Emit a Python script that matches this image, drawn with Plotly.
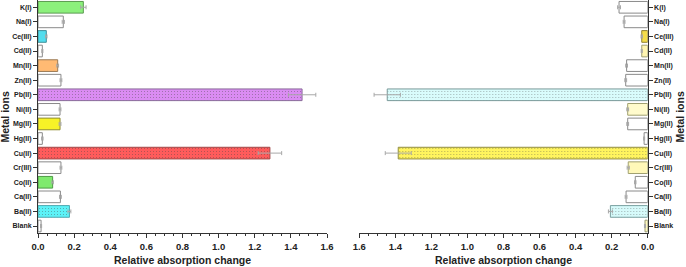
import plotly.graph_objects as go

W, H = 686, 267

# ---- data (bottom to top) ----
ions = ["Blank", "Ba(II)", "Ca(II)", "Co(II)", "Cr(III)", "Cu(II)", "Hg(II)", "Mg(II)",
        "Ni(II)", "Pb(II)", "Zn(II)", "Mn(II)", "Cd(II)", "Ce(III)", "Na(I)", "K(I)"]

left_values = [0.017, 0.174, 0.124, 0.081, 0.127, 1.284, 0.024, 0.122,
               0.122, 1.462, 0.127, 0.109, 0.024, 0.046, 0.140, 0.251]
left_errors = [0.003, 0.008, 0.005, 0.004, 0.005, 0.065, 0.004, 0.005,
               0.005, 0.076, 0.005, 0.005, 0.003, 0.004, 0.006, 0.015]

right_values = [0.015, 0.207, 0.120, 0.069, 0.108, 1.384, 0.020, 0.111,
                0.111, 1.445, 0.122, 0.117, 0.033, 0.033, 0.131, 0.159]
right_errors = [0.003, 0.011, 0.005, 0.004, 0.006, 0.072, 0.003, 0.005,
                0.005, 0.073, 0.005, 0.005, 0.003, 0.004, 0.005, 0.008]

x_ticks = [0.0, 0.2, 0.4, 0.6, 0.8, 1.0, 1.2, 1.4, 1.6]

# ---- styles ----
left_colors = ["#FFFFFF", "#5CF2F7", "#FFFFFF", "#7FEA6E", "#FFFFFF", "#FF5B5B", "#FFFFFF", "#F7F227",
               "#FFFFFF", "#DA8CF2", "#FFFFFF", "#FFBA73", "#FFFFFF", "#52DDEE", "#FFFFFF", "#8CF07C"]
left_edges = ["#8A8A8A", "#4FA8B0", "#8A8A8A", "#4E9A45", "#8A8A8A", "#A04848", "#8A8A8A", "#8F8C30",
              "#8A8A8A", "#8A6A9A", "#8A8A8A", "#9A7A55", "#8A8A8A", "#3F8F9A", "#8A8A8A", "#5A9A50"]
left_pattern = ["", ".", "", "", "", ".", "", "", "", ".", "", "", "", "", "", ""]
left_pfg = ["#FFFFFF", "#48DDE4", "#FFFFFF", "#FFFFFF", "#FFFFFF", "#EE4A4A", "#FFFFFF", "#FFFFFF",
            "#FFFFFF", "#C97AE4", "#FFFFFF", "#FFFFFF", "#FFFFFF", "#FFFFFF", "#FFFFFF", "#FFFFFF"]

right_colors = ["#FFF8C0", "#D6FAFA", "#FFFFFF", "#FFFFFF", "#FFF8B8", "#FFF45E", "#FFFFFF", "#FFFFFF",
                "#FFFBCC", "#D9FCFC", "#FFFFFF", "#FFFFFF", "#FFF5B0", "#F5DE4A", "#FFFFFF", "#FFFFFF"]
right_edges = ["#9A9A70", "#7AA0A0", "#8A8A8A", "#8A8A8A", "#A0A070", "#8F8C40", "#8A8A8A", "#8A8A8A",
               "#A0A070", "#7A9A9A", "#8A8A8A", "#8A8A8A", "#A0A070", "#8F8030", "#8A8A8A", "#8A8A8A"]
right_pattern = ["", ".", "", "", "", ".", "", "", "", ".", "", "", "", "", "", ""]
right_pfg = ["#FFFFFF", "#60D060", "#FFFFFF", "#FFFFFF", "#FFFFFF", "#DCD450", "#FFFFFF", "#FFFFFF",
             "#FFFFFF", "#A8D8D8", "#FFFFFF", "#FFFFFF", "#FFFFFF", "#FFFFFF", "#FFFFFF", "#FFFFFF"]

FONT = "Liberation Sans, Arial, sans-serif"
TXT = "#222222"
AX = "#333333"

fig = go.Figure()

fig.add_trace(go.Bar(
    y=ions, x=left_values, orientation="h", width=0.8,
    marker=dict(color=left_colors, line=dict(color=left_edges, width=1),
                pattern=dict(shape=left_pattern, fgcolor=left_pfg, size=3, solidity=0.1)),
    error_x=dict(type="data", array=left_errors, color="#A8A8A8", thickness=1, width=2),
    xaxis="x", yaxis="y", showlegend=False,
))
fig.add_trace(go.Bar(
    y=ions, x=right_values, orientation="h", width=0.8,
    marker=dict(color=right_colors, line=dict(color=right_edges, width=1),
                pattern=dict(shape=right_pattern, fgcolor=right_pfg, size=3, solidity=0.1)),
    error_x=dict(type="data", array=right_errors, color="#A8A8A8", thickness=1, width=2),
    xaxis="x2", yaxis="y2", showlegend=False,
))

ydom = [(H - 233.3) / H, 1.0]
xd1 = [38 / W, 327 / W]
xd2 = [359.3 / W, 647.7 / W]

xcommon = dict(
    automargin=False,
    showline=True, linecolor=AX, linewidth=1, ticks="outside", ticklen=4, tickwidth=1,
    tickcolor=AX, showgrid=False, zeroline=False, tickvals=x_ticks,
    ticktext=[f"{v:.1f}" for v in x_ticks],
    tickfont=dict(family=FONT, size=9.5, color=TXT, weight="bold"),
    minor=dict(ticks="outside", ticklen=2, tickcolor=AX, dtick=0.05, showgrid=False),
)
ycommon = dict(
    automargin=False,
    showline=True, linecolor=AX, linewidth=1, ticks="outside", ticklen=4, tickwidth=1,
    tickcolor=AX, showgrid=False, zeroline=False, range=[-0.5, 15.5],
    tickfont=dict(family=FONT, size=7, color=TXT, weight="bold"),
    categoryorder="array", categoryarray=ions,
)

fig.update_layout(
    width=W, height=H,
    margin=dict(l=0, r=0, t=0, b=0, autoexpand=False),
    paper_bgcolor="white", plot_bgcolor="white",
    bargap=0.2,
    xaxis=dict(domain=xd1, range=[0, 1.6], anchor="y", **xcommon),
    yaxis=dict(domain=ydom, anchor="x", side="left", **ycommon),
    xaxis2=dict(domain=xd2, range=[1.6, 0], anchor="y2", **xcommon),
    yaxis2=dict(domain=ydom, anchor="x2", side="right", **ycommon),
    annotations=[
        dict(text="Metal ions", x=5 / W, y=(H - 116.6) / H, xref="paper", yref="paper",
             textangle=-90, showarrow=False, xanchor="center", yanchor="middle",
             font=dict(family=FONT, size=10.5, color=TXT, weight="bold")),
        dict(text="Metal ions", x=680 / W, y=(H - 116.6) / H, xref="paper", yref="paper",
             textangle=-90, showarrow=False, xanchor="center", yanchor="middle",
             font=dict(family=FONT, size=10.5, color=TXT, weight="bold")),
        dict(text="Relative absorption change", x=182.5 / W, y=(H - 259.5) / H, xref="paper",
             yref="paper", showarrow=False, xanchor="center", yanchor="middle",
             font=dict(family=FONT, size=10.5, color=TXT, weight="bold")),
        dict(text="Relative absorption change", x=503.5 / W, y=(H - 259.5) / H, xref="paper",
             yref="paper", showarrow=False, xanchor="center", yanchor="middle",
             font=dict(family=FONT, size=10.5, color=TXT, weight="bold")),
    ],
)

fig.write_html(
    "out.html",
    config={"displayModeBar": False, "staticPlot": True},
    post_script="document.body.style.margin='0';document.body.style.padding='0';"
                "document.documentElement.style.overflow='hidden';",
)
